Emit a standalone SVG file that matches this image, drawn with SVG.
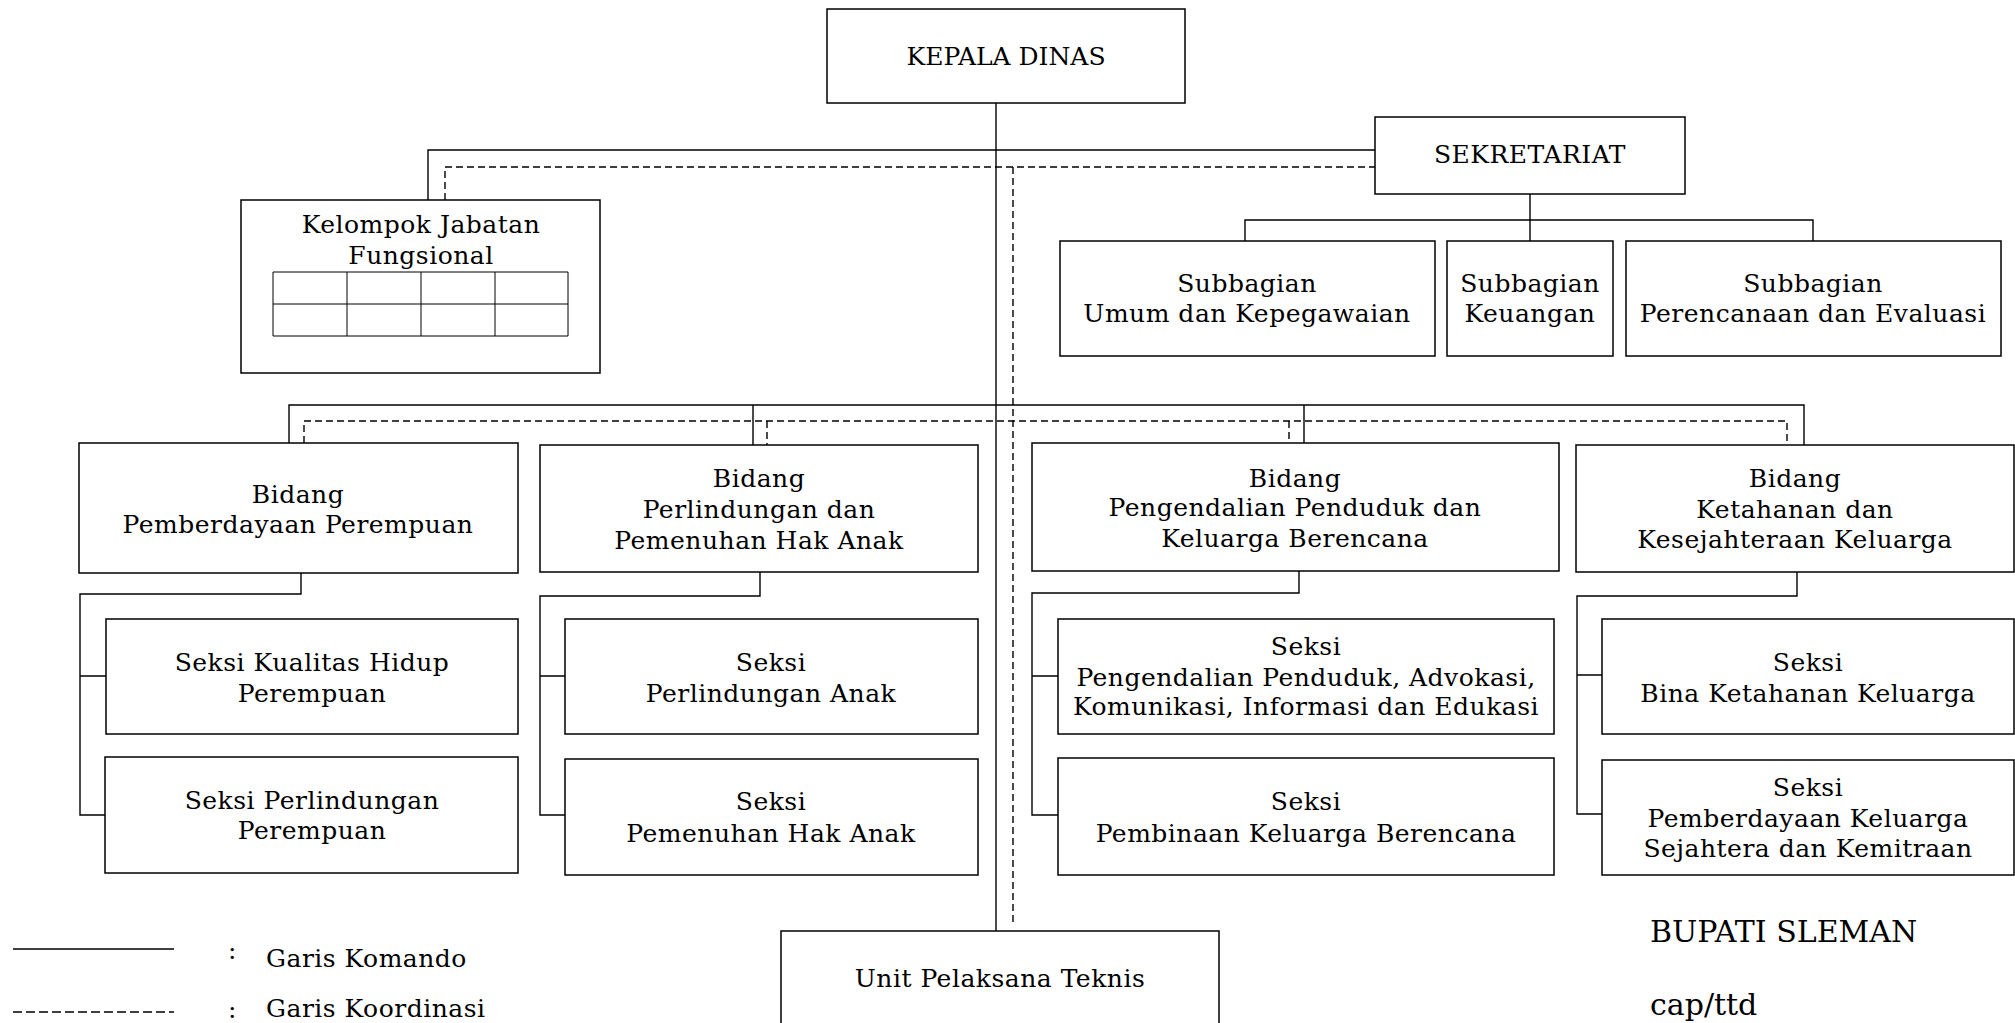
<svg xmlns="http://www.w3.org/2000/svg" width="2015" height="1023" viewBox="0 0 2015 1023">
<style>
.box{fill:#fff;stroke:#000;stroke-width:1.5}
.cmd{fill:none;stroke:#000;stroke-width:1.4}
.crd{fill:none;stroke:#000;stroke-width:1.4;stroke-dasharray:7 4}
text{font-family:"DejaVu Serif","Liberation Serif",serif;font-size:25px;fill:#000;letter-spacing:0.5px}
.c{text-anchor:middle}
.big{font-size:30px;letter-spacing:0}
</style>
<rect width="2015" height="1023" fill="#fff"/>
<g id="connectors">
<path class="cmd" d="M996 103V931M428 200V150H1375M289 443V405H1804V445M753 405V445M1304 405V443M1530 194V241M1245 241V220H1813V241"/>
<path class="crd" d="M445 200V167H1375M1013 167V925M304 443V421H1787V445M767 421V445M1289 421V443"/>
<path class="cmd" d="M301 573V594H80V815H105M80 676H106"/>
<path class="cmd" d="M760 572V596H540V815H565M540 676H565"/>
<path class="cmd" d="M1299 571V593H1032V815H1058M1032 676H1058"/>
<path class="cmd" d="M1797 572V596H1577V814H1602M1577 675H1602"/>
</g>
<g id="kepala"><rect class="box" x="827" y="9" width="358" height="94"/><text class="c" x="1006" y="65" style="letter-spacing:0">KEPALA DINAS</text></g>
<g id="sekretariat"><rect class="box" x="1375" y="117" width="310" height="77"/><text class="c" x="1530" y="163">SEKRETARIAT</text></g>
<g id="kelompok"><rect class="box" x="241" y="200" width="359" height="173"/>
<text class="c" x="421" y="233">Kelompok Jabatan</text><text class="c" x="421" y="264">Fungsional</text>
<path fill="none" stroke="#000" stroke-width="1" d="M273 272H568V336H273ZM273 304H568M347 272V336M421 272V336M495 272V336"/></g>
<g id="sub-umum"><rect class="box" x="1060" y="241" width="375" height="115"/><text class="c" x="1247" y="292">Subbagian</text><text class="c" x="1247" y="322">Umum dan Kepegawaian</text></g>
<g id="sub-keuangan"><rect class="box" x="1447" y="241" width="166" height="115"/><text class="c" x="1530" y="292">Subbagian</text><text class="c" x="1530" y="322">Keuangan</text></g>
<g id="sub-perencanaan"><rect class="box" x="1626" y="241" width="375" height="115"/><text class="c" x="1813" y="292">Subbagian</text><text class="c" x="1813" y="322">Perencanaan dan Evaluasi</text></g>
<g id="bidang1"><rect class="box" x="79" y="443" width="439" height="130"/><text class="c" x="298" y="503">Bidang</text><text class="c" x="298" y="533">Pemberdayaan Perempuan</text></g>
<g id="bidang2"><rect class="box" x="540" y="445" width="438" height="127"/><text class="c" x="759" y="487">Bidang</text><text class="c" x="759" y="518">Perlindungan dan</text><text class="c" x="759" y="549">Pemenuhan Hak Anak</text></g>
<g id="bidang3"><rect class="box" x="1032" y="443" width="527" height="128"/><text class="c" x="1295" y="487">Bidang</text><text class="c" x="1295" y="516">Pengendalian Penduduk dan</text><text class="c" x="1295" y="547">Keluarga Berencana</text></g>
<g id="bidang4"><rect class="box" x="1576" y="445" width="438" height="127"/><text class="c" x="1795" y="487">Bidang</text><text class="c" x="1795" y="518">Ketahanan dan</text><text class="c" x="1795" y="548">Kesejahteraan Keluarga</text></g>
<g id="seksi1a"><rect class="box" x="106" y="619" width="412" height="115"/><text class="c" x="312" y="671">Seksi Kualitas Hidup</text><text class="c" x="312" y="702">Perempuan</text></g>
<g id="seksi1b"><rect class="box" x="105" y="757" width="413" height="116"/><text class="c" x="312" y="809">Seksi Perlindungan</text><text class="c" x="312" y="839">Perempuan</text></g>
<g id="seksi2a"><rect class="box" x="565" y="619" width="413" height="115"/><text class="c" x="771" y="671">Seksi</text><text class="c" x="771" y="702">Perlindungan Anak</text></g>
<g id="seksi2b"><rect class="box" x="565" y="759" width="413" height="116"/><text class="c" x="771" y="810">Seksi</text><text class="c" x="771" y="842">Pemenuhan Hak Anak</text></g>
<g id="seksi3a"><rect class="box" x="1058" y="619" width="496" height="115"/><text class="c" x="1306" y="655">Seksi</text><text class="c" x="1306" y="686">Pengendalian Penduduk, Advokasi,</text><text class="c" x="1306" y="715">Komunikasi, Informasi dan Edukasi</text></g>
<g id="seksi3b"><rect class="box" x="1058" y="758" width="496" height="117"/><text class="c" x="1306" y="810">Seksi</text><text class="c" x="1306" y="842">Pembinaan Keluarga Berencana</text></g>
<g id="seksi4a"><rect class="box" x="1602" y="619" width="412" height="115"/><text class="c" x="1808" y="671">Seksi</text><text class="c" x="1808" y="702">Bina Ketahanan Keluarga</text></g>
<g id="seksi4b"><rect class="box" x="1602" y="760" width="412" height="115"/><text class="c" x="1808" y="796">Seksi</text><text class="c" x="1808" y="827">Pemberdayaan Keluarga</text><text class="c" x="1808" y="857">Sejahtera dan Kemitraan</text></g>
<g id="upt"><rect class="box" x="781" y="931" width="438" height="110"/><text class="c" x="1000" y="987">Unit Pelaksana Teknis</text></g>
<g id="legend">
<line x1="13" y1="949" x2="174" y2="949" stroke="#000" stroke-width="1.5"/>
<line x1="13" y1="1012" x2="174" y2="1012" stroke="#000" stroke-width="1.5" stroke-dasharray="9 4"/>
<text x="228" y="959">:</text><text x="266" y="967">Garis Komando</text>
<text x="228" y="1018">:</text><text x="266" y="1017">Garis Koordinasi</text>
</g>
<g id="signature">
<text class="big" x="1650" y="942">BUPATI SLEMAN</text>
<text class="big" x="1650" y="1015">cap/ttd</text>
</g>
</svg>
